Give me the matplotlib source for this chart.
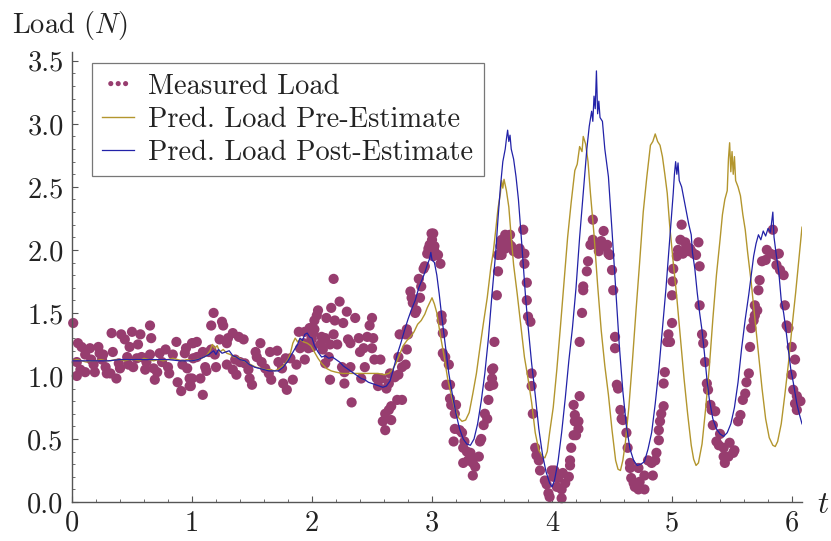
import matplotlib
matplotlib.use("Agg")
import matplotlib.pyplot as plt
from matplotlib.ticker import MultipleLocator, FixedLocator

plt.rcParams['font.family'] = 'serif'
plt.rcParams['font.serif'] = ['cmr10', 'DejaVu Serif']
plt.rcParams['mathtext.fontset'] = 'cm'
plt.rcParams['axes.unicode_minus'] = False

# ---------------- data ----------------
meas_t = [0.01,0.05,0.08,0.04,0.04,0.07,0.11,0.11,0.15,0.16,0.18,0.19,0.22,0.23,0.25,0.26,0.28,0.29,0.32,0.33,
          0.34,0.37,0.39,0.40,0.41,0.44,0.46,0.47,0.48,0.50,0.51,0.54,0.55,0.57,0.58,0.61,0.62,0.65,0.65,0.66,
          0.68,0.69,0.71,0.73,0.75,0.78,0.80,0.81,0.84,0.87,0.88,0.91,0.92,0.94,0.95,0.96,0.98,0.99,1.00,
          1.18,1.16,1.25,1.26,1.34,1.39,1.43,1.30,1.29,1.23,1.04,1.01,1.09,1.14,1.16,1.19,1.04,1.01,1.11,1.12,
          1.07,1.00,0.98,1.09,1.20,1.29,1.36,1.40,1.34,1.37,1.44,1.47,1.48,1.50,1.53,1.57,1.54,1.58,1.61,1.64,
          1.66,1.65,1.71,1.72,1.75,1.76,1.79,1.84,1.82,1.78,1.87,1.90,1.94,1.93,1.97,1.98,1.996,1.89,1.94,2.01,
          1.997,2.00,2.02,2.04,2.05,2.02,2.08,2.11,2.07,2.09,2.14,2.11,2.15,2.18,2.16,2.23,2.12,2.19,2.26,2.29,
          2.18,2.21,2.15,2.25,2.27,2.27,2.32,2.30,2.32,2.36,2.39,2.40,2.43,2.44,2.46,2.48,2.50,2.50,2.51,2.41,
          2.33,2.52,2.57,2.54,2.58,2.55,2.62,2.64,2.65,2.69,2.72,2.71,2.75,2.66,2.64,2.61,2.59,2.66,2.61,2.72,
          2.78,2.75,2.73,2.78,2.80,2.79,2.79,2.82,2.83,2.84,2.87,2.86,2.90,2.91,2.89,2.93,2.94,2.96,2.97,2.98,
          2.996,2.996,3.01,3.02,
          3.01,3.00,3.02,3.05,3.07,3.08,3.08,3.09,3.09,3.11,3.14,3.12,3.15,3.15,3.16,3.20,3.19,3.19,3.23,3.25,
          3.18,3.26,3.27,3.29,3.32,3.33,3.30,3.26,3.34,3.39,3.36,3.34,3.40,3.41,3.43,3.44,3.46,3.47,3.48,3.51,
          3.50,3.50,3.51,3.52,3.54,3.55,3.55,3.57,3.58,3.58,3.61,3.61,3.64,3.65,3.66,3.68,3.71,3.72,3.73,3.76,
          3.77,3.77,3.79,3.79,3.80,3.82,3.83,3.83,3.84,3.86,3.87,3.89,3.90,3.94,3.955,3.97,3.98,3.997,4.01,
          4.02,4.04,4.05,4.08,4.09,4.11,4.08,4.14,4.15,4.15,4.16,4.18,4.20,4.22,4.19,4.22,4.19,4.18,4.23,4.23,
          4.25,4.26,4.26,4.29,4.30,4.32,4.34,4.34,4.37,4.39,4.41,4.43,4.44,4.46,4.47,4.48,4.50,4.51,4.525,4.525,
          4.54,4.55,4.57,4.58,4.59,4.62,4.63,4.65,4.65,4.66,4.68,4.69,4.72,4.72,4.73,4.77,4.77,4.80,4.83,4.84,
          4.86,4.87,4.89,4.89,4.90,4.91,4.93,4.93,4.94,4.96,4.97,5.00,5.00,5.005,5.01,
          4.983,5.04,5.05,5.07,5.08,5.09,5.11,5.12,5.14,5.15,5.16,5.18,5.20,5.22,5.23,5.23,5.25,5.26,5.275,5.29,
          5.30,5.32,5.33,5.36,5.34,5.37,5.39,5.40,5.43,5.43,5.44,5.47,5.48,5.52,5.51,5.55,5.57,5.59,5.61,5.62,
          5.64,5.65,5.66,5.68,5.69,5.71,5.69,5.72,5.73,5.75,5.78,5.79,5.82,5.84,5.86,5.89,5.87,5.90,5.93,5.94,
          5.955,5.97,5.997,6.025,5.997,6.01,6.04,6.025,6.04,6.07]
meas_y = [1.42,1.26,1.23,1.11,1.00,1.05,1.17,1.03,1.22,1.13,1.09,1.03,1.23,1.18,1.13,1.17,1.07,1.02,1.02,1.34,
          1.19,0.98,1.10,1.06,1.33,1.29,1.15,1.09,1.23,1.35,1.07,1.14,1.25,1.33,1.15,1.05,1.11,1.40,1.17,1.30,
          1.06,0.97,1.03,1.18,1.11,1.21,1.07,1.02,1.17,1.27,0.95,0.88,1.09,1.18,1.22,1.06,0.98,0.92,1.26,
          1.50,1.40,1.43,1.40,1.34,1.31,1.29,1.30,1.26,1.29,1.27,1.26,1.19,1.19,1.21,1.17,1.15,1.14,1.07,1.04,
          0.98,0.98,0.92,0.85,1.07,1.09,1.13,1.11,1.05,1.01,1.10,1.05,0.98,0.93,1.19,1.26,1.15,1.11,1.06,1.02,
          0.97,1.19,1.20,1.11,1.06,0.94,0.89,0.97,1.14,1.14,1.09,1.22,1.13,1.26,1.22,1.38,1.30,1.35,1.35,1.34,
          1.29,1.23,1.44,1.48,1.52,1.37,1.31,1.30,1.25,1.21,1.15,1.10,0.97,1.77,1.54,1.59,1.46,1.44,1.42,1.51,
          1.33,1.25,1.25,1.07,1.03,0.94,1.07,1.29,1.26,1.46,1.30,1.19,1.22,1.07,1.31,1.40,1.46,1.22,1.30,0.98,
          0.79,1.13,1.13,0.98,0.98,0.92,0.90,0.94,1.02,0.99,1.01,0.81,0.81,0.76,0.73,0.70,0.64,0.65,0.57,1.15,
          1.09,1.07,1.33,1.33,1.33,1.37,1.21,1.67,1.62,1.58,1.52,1.50,1.62,1.71,1.77,1.85,1.87,1.97,2.01,2.04,
          2.13,1.97,1.95,1.99,
          2.13,2.08,2.03,1.96,1.89,1.48,1.44,1.34,1.18,1.15,1.09,0.93,0.93,0.82,0.77,0.77,0.70,0.58,0.57,0.55,
          0.48,0.43,0.48,0.40,0.39,0.35,0.33,0.31,0.31,0.36,0.28,0.21,0.48,0.50,0.61,0.70,0.66,0.81,0.92,0.93,
          0.98,1.05,1.06,1.27,1.64,1.83,1.96,2.03,1.96,2.08,2.12,2.01,2.05,2.12,2.03,1.99,1.99,1.97,2.01,2.16,
          1.97,1.89,1.74,1.60,1.47,1.43,1.02,0.92,0.70,0.43,0.37,0.33,0.25,0.17,0.14,0.07,0.04,0.25,0.20,
          0.25,0.12,0.19,0.10,0.23,0.15,0.03,0.20,0.29,0.33,0.43,0.53,0.53,0.58,0.64,0.64,0.69,0.77,0.84,1.27,
          1.50,1.68,1.71,1.83,1.91,2.04,2.08,2.24,2.04,1.99,2.07,2.15,2.03,2.04,1.97,1.96,1.84,1.68,1.31,1.22,
          0.93,0.90,0.73,0.66,0.65,0.55,0.43,0.31,0.27,0.19,0.15,0.12,0.10,0.27,0.16,0.10,0.21,0.33,0.31,0.21,
          0.33,0.39,0.49,0.57,0.64,0.70,0.76,0.94,1.03,1.27,1.33,1.42,1.64,1.75,1.85,
          1.27,1.95,2.00,2.08,2.20,1.97,2.06,2.03,1.99,2.01,1.99,1.97,1.96,2.06,1.87,1.56,1.33,1.26,1.11,0.94,
          0.89,0.77,0.73,0.72,0.61,0.48,0.45,0.54,0.43,0.36,0.31,0.36,0.47,0.41,0.39,0.64,0.69,0.81,0.86,0.95,
          1.02,1.23,1.38,1.44,1.48,1.52,1.56,1.68,1.76,1.91,1.92,2.00,1.97,2.16,1.96,1.97,1.88,1.84,1.80,1.56,
          1.40,1.38,1.23,1.13,1.01,0.89,0.84,0.78,0.73,0.80]

pre_t = [0.00,0.04,0.08,0.12,0.16,0.20,0.24,0.28,0.32,0.36,0.40,0.44,0.48,0.52,0.56,0.60,0.64,0.68,0.72,0.76,
         0.80,0.84,0.88,0.92,0.96,1.00,1.04,1.08,1.12,1.15,1.17,1.19,1.21,1.23,1.26,1.29,1.32,1.35,1.38,1.41,
         1.45,1.49,1.53,1.57,1.61,1.65,1.69,1.73,1.77,1.80,1.82,1.84,1.86,1.88,1.90,1.93,1.96,1.99,2.02,2.05,
         2.08,2.12,2.16,2.20,2.25,2.30,2.35,2.40,2.45,2.50,2.55,2.60,2.64,2.67,2.70,2.73,2.76,2.79,2.82,2.85,
         2.88,2.91,2.94,2.96,2.98,3.00,3.02,3.04,3.07,3.10,3.13,3.16,3.19,3.22,3.25,3.28,3.31,3.34,3.37,3.40,
         3.43,3.46,3.49,3.51,3.53,3.55,3.57,3.58,3.59,3.60,3.62,3.64,3.66,3.68,3.71,3.74,3.77,3.80,3.83,3.86,
         3.89,3.92,3.94,3.96,3.98,4.01,4.04,4.07,4.10,4.13,4.16,4.19,4.21,4.23,4.25,4.26,4.28,4.30,4.32,4.35,
         4.38,4.41,4.44,4.47,4.50,4.53,4.55,4.57,4.59,4.61,4.64,4.67,4.70,4.73,4.76,4.79,4.82,4.84,4.86,4.88,
         4.90,4.92,4.94,4.96,4.98,5.01,5.04,5.07,5.10,5.13,5.16,5.18,5.20,5.22,5.25,5.28,5.31,5.34,5.37,5.40,
         5.42,5.44,5.46,5.47,5.48,5.49,5.50,5.51,5.52,5.53,5.55,5.57,5.59,5.61,5.63,5.66,5.69,5.72,5.75,5.78,
         5.81,5.84,5.86,5.88,5.91,5.94,5.97,6.00,6.03,6.06,6.083]
pre_y = [1.12,1.13,1.12,1.11,1.12,1.12,1.13,1.12,1.12,1.13,1.13,1.12,1.13,1.13,1.12,1.14,1.13,1.12,1.13,1.12,
         1.13,1.14,1.13,1.12,1.13,1.12,1.13,1.14,1.16,1.20,1.25,1.22,1.24,1.19,1.21,1.18,1.17,1.15,1.15,1.13,
         1.11,1.09,1.07,1.06,1.05,1.05,1.04,1.06,1.09,1.13,1.18,1.26,1.30,1.27,1.29,1.27,1.26,1.24,1.19,1.14,
         1.10,1.06,1.04,1.03,1.02,1.02,1.02,1.02,1.02,1.02,1.02,1.01,1.02,1.05,1.10,1.17,1.24,1.28,1.31,1.35,
         1.41,1.44,1.49,1.54,1.58,1.62,1.57,1.50,1.32,1.16,0.98,0.85,0.74,0.67,0.64,0.65,0.71,0.86,1.02,1.23,
         1.43,1.62,1.86,1.98,2.15,2.33,2.45,2.55,2.49,2.56,2.47,2.34,2.10,1.88,1.65,1.40,1.15,0.98,0.79,0.55,
         0.41,0.36,0.35,0.40,0.55,0.75,1.05,1.39,1.75,2.10,2.38,2.63,2.68,2.82,2.78,2.90,2.84,2.70,2.45,2.12,
         1.72,1.36,1.08,0.85,0.57,0.33,0.26,0.25,0.33,0.46,0.75,1.12,1.52,1.90,2.30,2.58,2.83,2.86,2.92,2.86,
         2.83,2.74,2.60,2.45,2.20,1.90,1.62,1.30,0.98,0.70,0.45,0.34,0.29,0.31,0.46,0.74,1.06,1.45,1.80,2.08,
         2.28,2.40,2.47,2.72,2.85,2.62,2.78,2.60,2.74,2.55,2.50,2.43,2.28,2.16,1.98,1.74,1.46,1.18,0.90,0.66,
         0.51,0.45,0.44,0.48,0.62,0.85,1.10,1.39,1.66,1.95,2.18]

post_t = [0.00,0.10,0.20,0.30,0.40,0.50,0.60,0.70,0.80,0.90,1.00,1.05,1.10,1.14,1.18,1.20,1.22,1.25,1.28,1.31,
          1.34,1.37,1.40,1.44,1.48,1.52,1.56,1.60,1.64,1.68,1.72,1.76,1.80,1.83,1.86,1.88,1.90,1.92,1.94,1.96,
          1.98,2.00,2.02,2.05,2.08,2.11,2.14,2.17,2.20,2.23,2.26,2.29,2.32,2.35,2.38,2.41,2.44,2.47,2.50,2.53,
          2.56,2.59,2.62,2.65,2.68,2.71,2.74,2.77,2.80,2.83,2.86,2.89,2.92,2.94,2.96,2.98,2.99,3.00,3.02,3.04,
          3.06,3.08,3.11,3.14,3.17,3.20,3.23,3.26,3.29,3.32,3.35,3.38,3.41,3.44,3.47,3.50,3.53,3.55,3.57,3.59,
          3.61,3.62,3.63,3.64,3.65,3.66,3.68,3.70,3.72,3.74,3.76,3.78,3.80,3.83,3.86,3.89,3.92,3.95,3.98,4.00,
          4.02,4.05,4.08,4.11,4.14,4.17,4.20,4.23,4.26,4.29,4.31,4.33,4.34,4.35,4.36,4.37,4.38,4.39,4.40,4.42,
          4.44,4.47,4.50,4.53,4.56,4.59,4.62,4.65,4.68,4.71,4.74,4.77,4.80,4.83,4.86,4.89,4.92,4.95,4.97,4.99,
          5.01,5.02,5.03,5.04,5.05,5.06,5.08,5.10,5.12,5.14,5.16,5.17,5.19,5.21,5.23,5.25,5.27,5.29,5.31,5.34,
          5.37,5.40,5.43,5.46,5.49,5.52,5.55,5.58,5.61,5.64,5.66,5.68,5.70,5.72,5.74,5.76,5.78,5.80,5.82,5.83,
          5.84,5.85,5.87,5.89,5.91,5.93,5.95,5.97,5.99,6.01,6.04,6.06,6.083]
post_y = [1.12,1.12,1.12,1.12,1.13,1.13,1.13,1.13,1.13,1.12,1.12,1.13,1.15,1.17,1.20,1.17,1.21,1.18,1.19,1.20,
          1.16,1.15,1.13,1.12,1.09,1.07,1.06,1.05,1.04,1.04,1.04,1.07,1.12,1.17,1.22,1.25,1.30,1.28,1.33,1.34,
          1.31,1.30,1.24,1.19,1.15,1.16,1.14,1.15,1.13,1.11,1.08,1.06,1.04,1.02,1.00,0.98,0.97,0.95,0.94,0.93,
          0.92,0.91,0.92,0.96,1.06,1.17,1.26,1.36,1.45,1.53,1.60,1.70,1.77,1.82,1.88,1.93,1.98,1.92,1.90,1.80,
          1.65,1.48,1.25,1.02,0.85,0.70,0.58,0.50,0.46,0.45,0.50,0.62,0.80,1.02,1.30,1.65,1.97,2.25,2.50,2.70,
          2.80,2.88,2.95,2.86,2.91,2.80,2.72,2.58,2.40,2.15,1.88,1.62,1.40,1.10,0.85,0.58,0.38,0.24,0.15,0.12,
          0.17,0.32,0.55,0.82,1.12,1.38,1.70,2.10,2.45,2.80,2.98,3.10,3.02,3.22,3.12,3.42,3.08,3.18,3.05,3.02,
          2.80,2.58,2.15,1.70,1.25,0.88,0.60,0.42,0.33,0.29,0.30,0.32,0.42,0.55,0.78,1.05,1.38,1.70,1.95,2.20,
          2.45,2.60,2.70,2.60,2.69,2.55,2.50,2.40,2.30,2.20,2.12,1.98,1.85,1.66,1.50,1.36,1.18,0.98,0.82,0.66,
          0.58,0.54,0.52,0.55,0.62,0.75,0.95,1.22,1.45,1.65,1.80,1.95,2.05,2.12,2.08,2.15,2.11,2.17,2.14,2.22,
          2.30,2.10,1.95,1.82,1.60,1.50,1.36,1.20,1.05,0.95,0.78,0.70,0.62]

x_ticks = [0, 1, 2, 3, 4, 5, 6]
x_labels = ["0", "1", "2", "3", "4", "5", "6"]
y_ticks = [0.0, 0.5, 1.0, 1.5, 2.0, 2.5, 3.0, 3.5]
y_labels = ["0.0", "0.5", "1.0", "1.5", "2.0", "2.5", "3.0", "3.5"]

# ---------------- figure ----------------
W, H = 831, 541
fig = plt.figure(figsize=(W/100, H/100), dpi=100)
ax = fig.add_axes([72/W, 1-502/H, (802-72)/W, (502-52)/H])
ax.set_xlim(0, 6.083)
ax.set_ylim(0, 3.57)

dot_c = '#973D6F'
gold_c = '#B3962E'
blue_c = '#2222A8'
FS = 20.5

sc = ax.scatter(meas_t, meas_y, s=54, color=dot_c, edgecolors='none', zorder=2,
                clip_on=False, label='Measured Load')
l1, = ax.plot(pre_t, pre_y, color=gold_c, lw=1.0, zorder=3, label='Pred. Load Pre-Estimate')
l2, = ax.plot(post_t, post_y, color=blue_c, lw=0.9, zorder=4, label='Pred. Load Post-Estimate')

for s in ['top', 'right']:
    ax.spines[s].set_visible(False)
for s in ['left', 'bottom']:
    ax.spines[s].set_color('#555555')
    ax.spines[s].set_linewidth(1.0)

ax.xaxis.set_major_locator(FixedLocator(x_ticks))
ax.set_xticklabels(x_labels)
ax.yaxis.set_major_locator(FixedLocator(y_ticks))
ax.set_yticklabels(y_labels)
ax.xaxis.set_minor_locator(MultipleLocator(0.2))
ax.yaxis.set_minor_locator(MultipleLocator(0.1))
ax.tick_params(which='major', direction='in', length=4.5, width=0.8, color='#555555',
               labelsize=FS, labelcolor='#222222', pad=6)
ax.tick_params(which='minor', direction='in', length=2.5, width=0.6, color='#555555')

fig.text(12/W, 1-26/H, 'Load ($N$)', fontsize=FS, color='#222222', va='center', ha='left')
fig.text(823/W, 1-505/H, '$t$', fontsize=FS + 2, color='#222222', va='center', ha='center')

leg = ax.legend(handles=[sc, l1, l2], loc='upper left', bbox_to_anchor=(20/730, 1-(63-52)/450),
                fontsize=FS, frameon=True, fancybox=False, edgecolor='#555555',
                scatterpoints=3, scatteryoffsets=[0.5], markerscale=0.5,
                handlelength=1.12, handletextpad=0.5,
                borderpad=0.36, labelspacing=0.24, borderaxespad=0)
leg.get_frame().set_linewidth(0.9)
for t in leg.get_texts():
    t.set_color('#222222')

fig.savefig('out.png', dpi=100)
